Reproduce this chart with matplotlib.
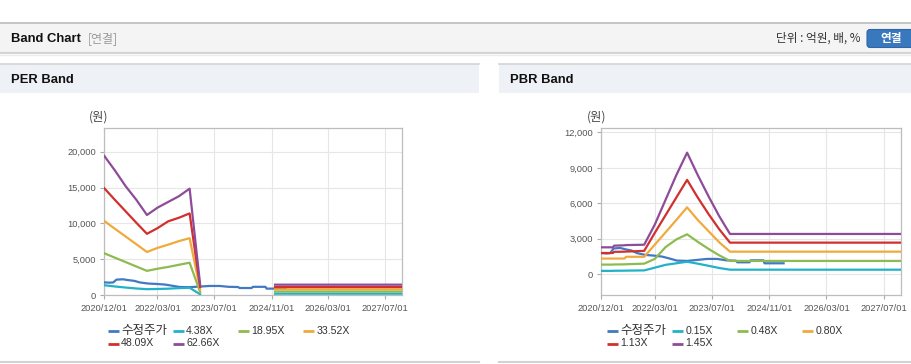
import numpy as np
import pandas as pd
import matplotlib
matplotlib.use("Agg")
import matplotlib.pyplot as plt
from matplotlib.patches import Rectangle, FancyBboxPatch
from matplotlib.ticker import FuncFormatter

plt.rcParams["font.family"] = ["Liberation Sans", "Noto Sans CJK KR", "DejaVu Sans"]

W, H = 912, 364

# ---- data ----------------------------------------------------------------
price_dates = ["2020-12-01", "2021-01-15", "2021-02-15", "2021-03-15", "2021-05-10",
               "2021-06-20", "2021-08-15", "2021-10-01", "2021-12-10", "2022-02-20",
               "2022-05-01", "2022-06-25", "2022-09-05", "2022-12-01", "2023-02-20",
               "2023-05-20", "2023-08-15", "2023-09-15", "2023-11-01", "2024-01-20",
               "2024-02-01", "2024-05-15", "2024-05-25", "2024-09-10", "2024-09-20",
               "2025-03-01"]
price = [1800, 1760, 1790, 2180, 2230, 2120, 2010, 1790, 1640, 1580,
         1500, 1360, 1160, 1130, 1210, 1300, 1300, 1250, 1180, 1150,
         1015, 1015, 1180, 1180, 930, 930]

# PER band (gap between 2023-03 and 2024-12)
per_dates = ["2020-12-01", "2021-03-01", "2021-06-01", "2021-09-01", "2021-12-01",
             "2022-03-01", "2022-06-01", "2022-09-01", "2022-12-01", "2023-03-01",
             "2024-01-01", "2024-12-01", "2027-12-01"]
per_labels = ["4.38X", "18.95X", "33.52X", "48.09X", "62.66X"]
per_438 = [1400, 1230, 1080, 950, 850, 880, 920, 1000, 1050, 140, np.nan, 230, 230]
per_1895 = [5850, 5240, 4630, 4010, 3400, 3700, 3950, 4250, 4540, 450, np.nan, 530, 530]
per_3352 = [10350, 9270, 8190, 7110, 6030, 6600, 7050, 7550, 7950, 800, np.nan, 830, 830]
per_4809 = [14900, 13300, 11700, 10100, 8560, 9350, 10300, 10800, 11400, 1150, np.nan, 1150, 1150]
per_6266 = [19400, 17400, 15200, 13300, 11180, 12200, 13000, 13800, 14850, 1500, np.nan, 1480, 1480]

# PBR band
pbr_dates = ["2020-12-01", "2021-03-10", "2021-03-20", "2021-06-15", "2021-07-01",
             "2021-12-01", "2022-03-01", "2022-06-01", "2022-09-01", "2022-12-01",
             "2023-03-01", "2023-06-01", "2023-09-01", "2023-12-01", "2027-12-01"]
pbr_labels = ["0.15X", "0.48X", "0.80X", "1.13X", "1.45X"]
pbr_015 = [290, 290, 300, 305, 310, 330, 560, 800, 930, 1060, 900, 720, 530, 390, 390]
pbr_048 = [820, 820, 830, 840, 850, 900, 1300, 2300, 2950, 3380, 2750, 2150, 1600, 1130, 1130]
pbr_080 = [1330, 1330, 1330, 1330, 1480, 1480, 2500, 3550, 4600, 5660, 4600, 3650, 2700, 1915, 1915]
pbr_113 = [1800, 1800, 1900, 1910, 1920, 1980, 3500, 5000, 6500, 7980, 6500, 5100, 3800, 2676, 2676]
pbr_145 = [2280, 2280, 2420, 2450, 2470, 2500, 4200, 6300, 8400, 10280, 8400, 6600, 4900, 3410, 3410]

tick_dates = ["2020-12-01", "2022-03-01", "2023-07-01", "2024-11-01", "2026-03-01", "2027-07-01"]
tick_labels = ["2020/12/01", "2022/03/01", "2023/07/01", "2024/11/01", "2026/03/01", "2027/07/01"]

per_yticks = [0, 5000, 10000, 15000, 20000]
pbr_yticks = [0, 3000, 6000, 9000, 12000]

price_label = "수정주가"
colors = ["#4179c2", "#22b2c8", "#8dbb4f", "#f0aa3c", "#d1302d", "#8e4c98"]

# ---- figure ----------------------------------------------------------------
fig = plt.figure(figsize=(W / 100, H / 100), dpi=100)
bg = fig.add_axes([0, 0, 1, 1], zorder=0)
bg.set_xlim(0, W)
bg.set_ylim(H, 0)
bg.axis("off")

# top header bar
bg.add_patch(Rectangle((0, 22), W, 31, facecolor="#f4f4f4", edgecolor="none"))
bg.plot([0, W], [22.5, 22.5], color="#bdbdbd", lw=1.2)
bg.plot([0, W], [53, 53], color="#d4d4d4", lw=1.5)
bg.plot([0, W], [54.5, 54.5], color="#ececec", lw=1)
bg.text(11, 38.5, "Band Chart", fontsize=9.4, fontweight="bold", color="#111", va="center")
bg.text(88, 38.5, "[연결]", fontsize=8.6, color="#999", family=["Noto Sans CJK KR"], va="center")
bg.text(861, 38.5, "단위 : 억원, 배, %", fontsize=8.4, color="#333",
        family=["Noto Sans CJK KR"], va="center", ha="right")
bg.add_patch(FancyBboxPatch((867, 29.5), 50, 18, boxstyle="round,pad=0,rounding_size=3",
                            facecolor="#3a78be", edgecolor="#2f66a6", lw=0.8))
bg.text(891.5, 38.5, "연결", fontsize=8.4, fontweight="bold", color="white",
        family=["Noto Sans CJK KR"], va="center", ha="center")

# panel headers
for x0, x1, title in [(0, 479, "PER Band"), (499, W, "PBR Band")]:
    bg.add_patch(Rectangle((x0, 63.5), x1 - x0, 29.5, facecolor="#eef1f6", edgecolor="none"))
    bg.plot([x0, x1], [63.5, 63.5], color="#d3d3d3", lw=1.2)
    bg.plot([x0, x1], [362, 362], color="#d3d3d3", lw=1.5)
    bg.text(x0 + 11, 80, title, fontsize=9.4, fontweight="bold", color="#111", va="center")


def px_rect(x0, y0, x1, y1):
    return [x0 / W, 1 - y1 / H, (x1 - x0) / W, (y1 - y0) / H]


def style_axes(ax, yticks, ylim):
    ax.set_xlim(pd.Timestamp("2020-12-01"), pd.Timestamp("2027-11-25"))
    ax.set_ylim(*ylim)
    ax.set_xticks(pd.to_datetime(tick_dates))
    ax.set_xticklabels(tick_labels)
    ax.set_yticks(yticks)
    ax.yaxis.set_major_formatter(FuncFormatter(lambda v, p: f"{v:,.0f}"))
    ax.grid(True, color="#e6e6e6", lw=0.8)
    ax.set_axisbelow(True)
    for s in ax.spines.values():
        s.set_color("#bdbdbd")
        s.set_linewidth(0.9)
    ax.tick_params(axis="both", length=3, color="#aaaaaa", labelsize=6.7,
                   labelcolor="#555555", pad=3)
    ax.set_facecolor("white")


lw = 1.6

# PER axes
ax1 = fig.add_axes(px_rect(104.3, 128.3, 402.3, 295.3), zorder=2)
ax1.plot(pd.to_datetime(price_dates), price, color=colors[0], lw=lw, zorder=3)
for vals, c in zip([per_438, per_1895, per_3352, per_4809, per_6266], colors[1:]):
    ax1.plot(pd.to_datetime(per_dates), vals, color=c, lw=lw, zorder=4)
style_axes(ax1, per_yticks, (0, 23250))

# PBR axes
ax2 = fig.add_axes(px_rect(601.3, 128.3, 901, 295.3), zorder=2)
ax2.plot(pd.to_datetime(price_dates), price, color=colors[0], lw=lw, zorder=3)
for vals, c in zip([pbr_015, pbr_048, pbr_080, pbr_113, pbr_145], colors[1:]):
    ax2.plot(pd.to_datetime(pbr_dates), vals, color=c, lw=lw, zorder=4)
style_axes(ax2, pbr_yticks, (-1775, 12340))

# unit labels
for xc in (99, 597):
    bg.text(xc, 117.5, "(원)", fontsize=8.8, color="#444", family=["Noto Sans CJK KR"],
            ha="center", va="center")

# legends
for x_start, labels in [(107.7, [price_label] + per_labels), (606.7, [price_label] + pbr_labels)]:
    for i, (lab, c) in enumerate(zip(labels, colors)):
        row, col = divmod(i, 4)
        x = x_start + col * 65
        y = 330.5 + row * 13
        bg.plot([x, x + 11.5], [y, y], color=c, lw=2, solid_capstyle="butt")
        if lab == price_label:
            bg.text(x + 13.5, y, lab, fontsize=9.0, color="#333",
                    family=["Noto Sans CJK KR"], va="center")
        else:
            bg.text(x + 13.5, y, lab, fontsize=7.6, color="#333", va="center")

fig.savefig("out.png", dpi=100)
